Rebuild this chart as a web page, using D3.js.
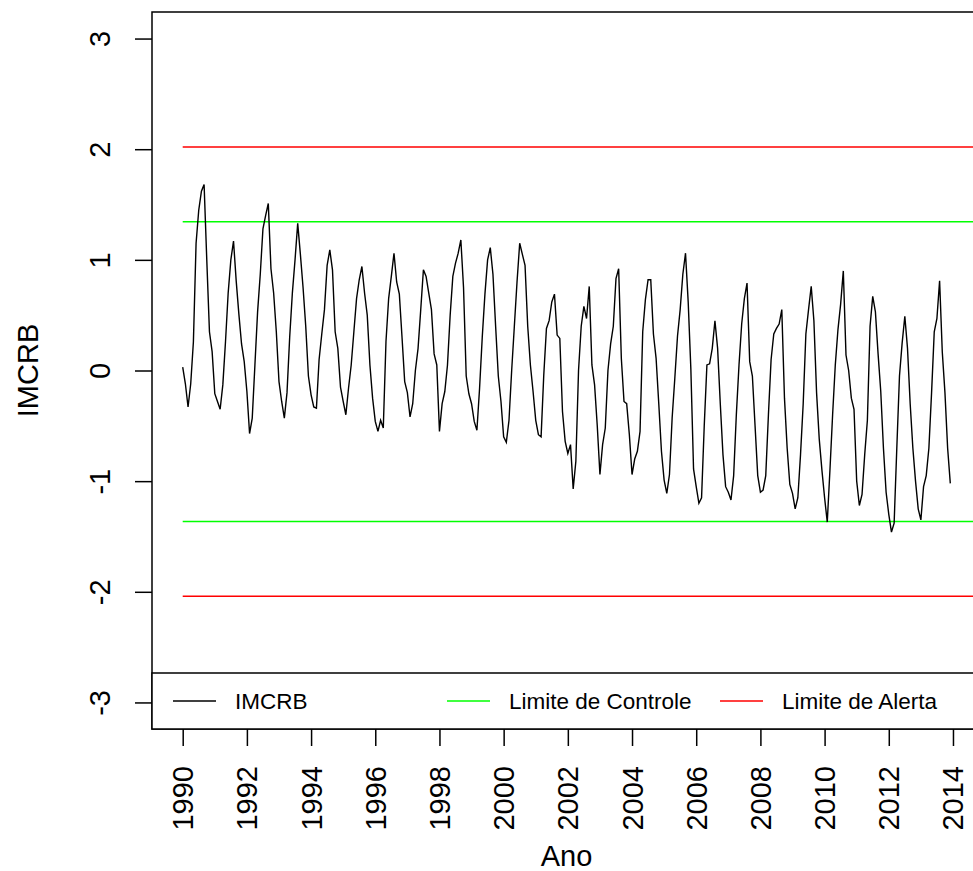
<!DOCTYPE html>
<html>
<head>
<meta charset="utf-8">
<script src="https://cdn.jsdelivr.net/npm/d3@7"></script>
<style>
  body { margin: 0; background: #fff; }
  text { font-family: "Liberation Sans", Arial, sans-serif; fill: #000; }
</style>
</head>
<body>
<svg id="chart" width="973" height="871"></svg>
<script>
// serie mensal do IMCRB, jan/1990 a dez/2013
const inicio = 1990;
const imcrb = [
  0.03, -0.12, -0.33, -0.12, 0.26, 1.15, 1.45, 1.62, 1.68, 1.00, 0.35, 0.17,   // 1990
  -0.21, -0.28, -0.35, -0.13, 0.26, 0.70, 1.00, 1.17, 0.81, 0.51, 0.24, 0.08,  // 1991
  -0.19, -0.57, -0.43, 0.05, 0.53, 0.87, 1.28, 1.40, 1.51, 0.92, 0.70, 0.35,   // 1992
  -0.10, -0.28, -0.43, -0.20, 0.30, 0.70, 1.00, 1.33, 1.05, 0.75, 0.40, -0.05, // 1993
  -0.22, -0.33, -0.34, 0.10, 0.33, 0.55, 0.95, 1.09, 0.91, 0.35, 0.20, -0.15,  // 1994
  -0.28, -0.40, -0.16, 0.05, 0.35, 0.65, 0.82, 0.94, 0.70, 0.50, 0.05, -0.25,  // 1995
  -0.46, -0.55, -0.45, -0.52, 0.26, 0.65, 0.85, 1.06, 0.80, 0.69, 0.30, -0.10, // 1996
  -0.20, -0.42, -0.30, 0.00, 0.20, 0.55, 0.91, 0.85, 0.70, 0.55, 0.15, 0.05,   // 1997
  -0.55, -0.30, -0.19, 0.05, 0.50, 0.85, 0.97, 1.06, 1.18, 0.75, -0.05, -0.21, // 1998
  -0.30, -0.46, -0.54, -0.16, 0.30, 0.69, 1.00, 1.11, 0.87, 0.40, -0.05, -0.28,// 1999
  -0.60, -0.65, -0.45, 0.00, 0.40, 0.80, 1.15, 1.05, 0.95, 0.40, 0.05, -0.19,  // 2000
  -0.45, -0.58, -0.60, -0.04, 0.38, 0.45, 0.62, 0.69, 0.32, 0.29, -0.37, -0.64,// 2001
  -0.75, -0.67, -1.07, -0.82, 0.00, 0.40, 0.58, 0.47, 0.76, 0.05, -0.13, -0.50,// 2002
  -0.94, -0.67, -0.52, 0.00, 0.24, 0.40, 0.83, 0.92, 0.11, -0.28, -0.30, -0.58,// 2003
  -0.94, -0.80, -0.73, -0.55, 0.35, 0.64, 0.82, 0.82, 0.33, 0.11, -0.30, -0.73,// 2004
  -0.99, -1.11, -0.94, -0.43, -0.07, 0.31, 0.55, 0.87, 1.06, 0.62, 0.01, -0.89,// 2005
  -1.05, -1.20, -1.15, -0.50, 0.05, 0.06, 0.20, 0.45, 0.20, -0.30, -0.76, -1.05,// 2006
  -1.10, -1.17, -0.95, -0.40, 0.05, 0.42, 0.65, 0.79, 0.08, -0.05, -0.50, -0.95,// 2007
  -1.10, -1.08, -0.95, -0.40, 0.10, 0.33, 0.38, 0.42, 0.55, -0.25, -0.70, -1.03,// 2008
  -1.11, -1.25, -1.15, -0.76, -0.30, 0.33, 0.55, 0.76, 0.45, -0.20, -0.62, -0.90,// 2009
  -1.15, -1.37, -0.90, -0.40, 0.05, 0.37, 0.60, 0.90, 0.14, 0.00, -0.25, -0.35,// 2010
  -1.00, -1.22, -1.12, -0.76, -0.45, 0.40, 0.67, 0.53, 0.15, -0.19, -0.70, -1.10,// 2011
  -1.30, -1.46, -1.38, -0.70, -0.05, 0.25, 0.49, 0.20, -0.30, -0.70, -1.00, -1.25,// 2012
  -1.35, -1.05, -0.95, -0.70, -0.20, 0.35, 0.47, 0.81, 0.17, -0.20, -0.70, -1.02 // 2013
];

const anos = [1990, 1992, 1994, 1996, 1998, 2000, 2002, 2004, 2006, 2008, 2010, 2012, 2014];
const yTicks = [-3, -2, -1, 0, 1, 2, 3];
const limiteControle = [1.345, -1.365];
const limiteAlerta = [2.02, -2.04];
const legenda = ["IMCRB", "Limite de Controle", "Limite de Alerta"];

const cores = ["#000000", "#00ff00", "#ff0000"];

const svg = d3.select("#chart");

// regiao do grafico (borda direita fica fora da imagem, como no original)
const pLeft = 152, pRight = 981, pTop = 12, pBottom = 729;

const tempo = imcrb.map((v, i) => inicio + i / 12);
const xMin = d3.min(tempo), xMax = d3.max(tempo);
const xPad = (xMax - xMin) * 0.04;

const x = d3.scaleLinear().domain([xMin - xPad, xMax + xPad]).range([pLeft, pRight]);
const y = d3.scaleLinear().domain([-3.24, 3.24]).range([pBottom, pTop]);

svg.append("rect").attr("width", 973).attr("height", 871).attr("fill", "#fff");

svg.append("clipPath").attr("id", "clip")
  .append("rect")
  .attr("x", pLeft).attr("y", pTop)
  .attr("width", pRight - pLeft).attr("height", pBottom - pTop);

const area = svg.append("g").attr("clip-path", "url(#clip)");

// limites
function hline(v, cor) {
  area.append("line")
    .attr("x1", x(xMin)).attr("x2", x(xMax + xPad))
    .attr("y1", y(v)).attr("y2", y(v))
    .attr("stroke", cor)
    .attr("stroke-width", 1.5);
}
limiteAlerta.forEach(v => hline(v, cores[2]));
limiteControle.forEach(v => hline(v, cores[1]));

// serie
const line = d3.line()
  .x((d, i) => x(tempo[i]))
  .y(d => y(d));

area.append("path")
  .datum(imcrb)
  .attr("d", line)
  .attr("fill", "none")
  .attr("stroke", cores[0])
  .attr("stroke-width", 1.4);

// eixo x
const xAxis = svg.append("g")
  .attr("transform", `translate(0,${pBottom})`)
  .call(d3.axisBottom(x).tickValues(anos).tickSize(17).tickFormat(d => String(d)));

xAxis.select(".domain").remove();
xAxis.selectAll(".tick line").attr("stroke", "#000").attr("stroke-width", 1.5);
xAxis.selectAll(".tick text")
  .attr("transform", "rotate(-90)")
  .attr("text-anchor", "end")
  .attr("x", -37)
  .attr("y", 10)
  .attr("dy", 0)
  .style("font-size", "29px");

// eixo y
const yAxis = svg.append("g")
  .attr("transform", `translate(${pLeft},0)`)
  .call(d3.axisLeft(y).tickValues(yTicks).tickSize(17).tickFormat(d => String(d)));

yAxis.select(".domain").remove();
yAxis.selectAll(".tick line").attr("stroke", "#000").attr("stroke-width", 1.5);
yAxis.selectAll(".tick text")
  .attr("transform", "rotate(-90)")
  .attr("text-anchor", "middle")
  .attr("x", 0)
  .attr("y", -42)
  .attr("dy", 0)
  .style("font-size", "29px");

// titulos
svg.append("text")
  .attr("x", (pLeft + pRight) / 2)
  .attr("y", 866)
  .attr("text-anchor", "middle")
  .style("font-size", "29px")
  .text("Ano");

svg.append("text")
  .attr("transform", `translate(38,${(pTop + pBottom) / 2}) rotate(-90)`)
  .attr("text-anchor", "middle")
  .style("font-size", "29px")
  .text("IMCRB");

// caixa do grafico
svg.append("rect")
  .attr("x", pLeft).attr("y", pTop)
  .attr("width", pRight - pLeft).attr("height", pBottom - pTop)
  .attr("fill", "none")
  .attr("stroke", "#000")
  .attr("stroke-width", 1.5);

// legenda
const legTop = 673;
svg.append("rect")
  .attr("x", pLeft).attr("y", legTop)
  .attr("width", pRight - pLeft).attr("height", pBottom - legTop)
  .attr("fill", "#fff")
  .attr("stroke", "#000")
  .attr("stroke-width", 1.5);

const legX = [173, 447, 720];
const legY = 701;
const leg = svg.selectAll(".leg")
  .data(legenda)
  .enter()
  .append("g")
  .attr("class", "leg");

leg.append("line")
  .attr("x1", (d, i) => legX[i])
  .attr("x2", (d, i) => legX[i] + 43)
  .attr("y1", legY).attr("y2", legY)
  .attr("stroke", (d, i) => cores[i])
  .attr("stroke-width", 1.5);

leg.append("text")
  .attr("x", (d, i) => legX[i] + 62)
  .attr("y", legY + 8)
  .style("font-size", "22.5px")
  .text(d => d);
</script>
</body>
</html>
